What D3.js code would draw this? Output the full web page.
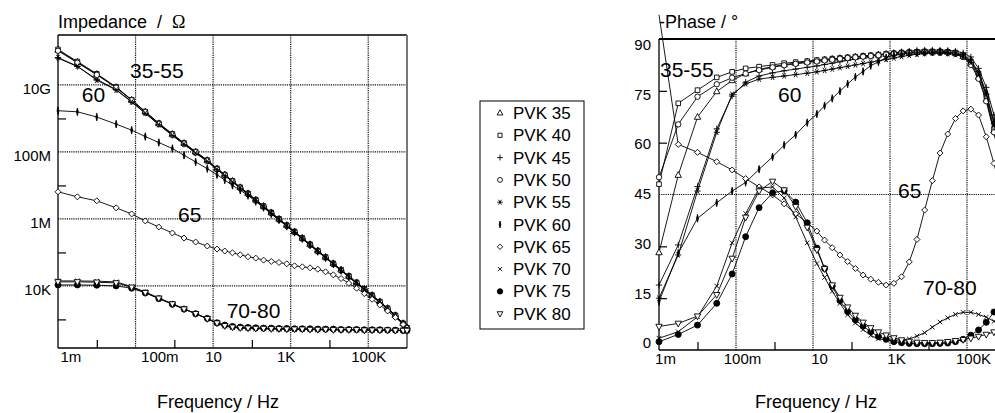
<!DOCTYPE html>
<html><head><meta charset="utf-8">
<script src="https://cdn.jsdelivr.net/npm/d3@7"></script>
<style>
body{margin:0;background:#fff;}
svg{display:block;}
</style></head><body>
<svg id="c" width="995" height="413"></svg>
<script>
// ---------- DATA ----------
const freq = [0.001,0.00316,0.01,0.0316,0.0794,0.178,0.398,0.891,1.78,3.55,7.08,12.6,20.0,31.6,50.1,79.4,126,200,316,501,794,1259,1995,3162,5012,7943,12589,19953,31623,50119,79433,125893,199526,316228,501187,794328,1000000];

const seriesNames = ["PVK 35","PVK 40","PVK 45","PVK 50","PVK 55","PVK 60","PVK 65","PVK 70","PVK 75","PVK 80"];
const seriesMarkers = ["tri","sq","plus","circ","star","tick","diam","cross","dot","itri"];

// |Z| / Ohm
const imp35 = [1.10e11,4.79e10,2.09e10,8.51e9,3.55e9,1.58e9,7.08e8,3.39e8,1.82e8,1.00e8,5.62e7,3.16e7,2.09e7,1.35e7,8.71e6,5.75e6,3.72e6,2.40e6,1.55e6,1.00e6,6.46e5,4.17e5,2.69e5,1.74e5,1.12e5,7.24e4,4.68e4,3.02e4,1.95e4,1.26e4,8.13e3,5.25e3,3.39e3,2.14e3,1.32e3,759,562];
const imp40 = [1.15e11,5.0e10,2.15e10,8.7e9,3.6e9,1.6e9,7.2e8,3.45e8,1.85e8,1.02e8,5.7e7,3.2e7,2.1e7,1.37e7,8.8e6,5.8e6,3.75e6,2.42e6,1.56e6,1.01e6,6.5e5,4.2e5,2.7e5,1.75e5,1.13e5,7.3e4,4.7e4,3.05e4,1.97e4,1.27e4,8.2e3,5.3e3,3.4e3,2.15e3,1.33e3,760,565];
const imp45 = [6.31e10,3.55e10,1.48e10,7.24e9,3.16e9,1.45e9,6.61e8,3.16e8,1.70e8,9.33e7,5.25e7,3.02e7,2.0e7,1.29e7,8.32e6,5.5e6,3.55e6,2.29e6,1.48e6,9.55e5,6.17e5,3.98e5,2.57e5,1.66e5,1.07e5,6.92e4,4.47e4,2.88e4,1.86e4,1.2e4,7.76e3,5.01e3,3.24e3,2.04e3,1.26e3,741,550];
const imp50 = [1.05e11,4.6e10,2.0e10,8.3e9,3.5e9,1.55e9,6.9e8,3.3e8,1.78e8,9.8e7,5.5e7,3.1e7,2.05e7,1.32e7,8.5e6,5.6e6,3.65e6,2.35e6,1.52e6,9.8e5,6.3e5,4.1e5,2.65e5,1.71e5,1.1e5,7.1e4,4.6e4,2.97e4,1.92e4,1.24e4,8.0e3,5.2e3,3.35e3,2.12e3,1.31e3,755,560];
const imp55 = [6.6e10,3.63e10,1.38e10,7.08e9,3.1e9,1.42e9,6.5e8,3.1e8,1.68e8,9.2e7,5.2e7,2.98e7,1.97e7,1.27e7,8.2e6,5.4e6,3.5e6,2.26e6,1.46e6,9.4e5,6.1e5,3.94e5,2.54e5,1.64e5,1.06e5,6.85e4,4.43e4,2.86e4,1.85e4,1.19e4,7.7e3,4.97e3,3.22e3,2.03e3,1.25e3,738,548];
const imp60 = [1.70e9,1.58e9,1.10e9,6.76e8,4.47e8,2.88e8,1.91e8,1.26e8,7.94e7,5.01e7,3.16e7,2.09e7,1.45e7,1.0e7,7.24e6,5.01e6,3.31e6,2.19e6,1.41e6,9.33e5,6.03e5,3.98e5,2.57e5,1.66e5,1.07e5,6.92e4,4.47e4,2.88e4,1.86e4,1.2e4,7.76e3,5.01e3,3.16e3,2.0e3,1.26e3,741,550];
const imp65 = [6.46e6,4.57e6,3.47e6,2.14e6,1.41e6,8.71e5,5.75e5,3.80e5,2.69e5,2.04e5,1.55e5,1.26e5,1.10e5,9.77e4,8.51e4,7.41e4,6.76e4,5.89e4,5.37e4,5.01e4,4.57e4,3.98e4,3.72e4,3.47e4,3.16e4,2.63e4,2.14e4,1.66e4,1.20e4,8.51e3,5.89e3,3.98e3,2.69e3,1.78e3,1.15e3,708,550];
const imp70 = [1.41e4,1.41e4,1.38e4,1.32e4,9.55e3,6.61e3,4.37e3,2.95e3,2.09e3,1.48e3,1.05e3,759,631,575,550,537,525,525,513,513,501,501,501,501,490,490,490,490,490,479,479,479,479,468,468,468,468];
const imp75 = [1.07e4,1.07e4,1.05e4,1.0e4,8.51e3,6.17e3,4.17e3,2.82e3,2.04e3,1.48e3,1.07e3,794,676,617,589,575,562,550,550,537,537,525,525,525,513,513,513,501,501,501,490,490,490,479,479,468,468];
const imp80 = [1.32e4,1.32e4,1.29e4,1.23e4,9.12e3,6.31e3,4.27e3,2.88e3,2.04e3,1.48e3,1.05e3,776,646,589,562,550,537,537,525,525,513,513,513,501,501,501,490,490,490,490,479,479,479,479,468,468,468];

// -Phase / degree
const ph35 = [28.2,50.6,67.4,74.8,78.0,80.0,81.2,82.0,82.6,83.0,83.4,83.7,84.0,84.2,84.4,84.6,84.8,85.0,85.2,85.4,85.6,85.8,86.0,86.1,86.2,86.3,86.3,86.3,86.2,85.9,85.0,83.0,79.0,72.5,63.5,52.0,45.0];
const ph40 = [48.0,71.4,75.2,78.9,80.5,81.5,82.0,82.5,83.0,83.3,83.6,83.9,84.1,84.3,84.5,84.7,84.9,85.1,85.3,85.5,85.7,85.9,86.1,86.2,86.3,86.4,86.4,86.4,86.3,86.1,85.3,83.5,80.0,73.5,64.0,51.0,43.0];
const ph45 = [18.8,30.4,47.3,64.0,73.5,77.5,79.3,80.2,80.8,81.3,81.8,82.2,82.6,83.0,83.4,83.8,84.2,84.6,85.0,85.4,85.7,86.0,86.3,86.5,86.7,86.8,86.8,86.8,86.7,86.5,86.0,84.8,81.5,76.0,68.0,57.0,50.0];
const ph50 = [50.0,65.3,73.3,76.9,78.8,80.0,81.0,81.8,82.4,82.8,83.2,83.5,83.8,84.0,84.3,84.5,84.7,84.9,85.1,85.3,85.5,85.7,85.9,86.0,86.1,86.2,86.2,86.2,86.1,85.8,84.8,82.5,78.5,72.0,63.0,52.0,45.0];
const ph55 = [15.0,27.5,46.0,63.0,74.0,77.0,78.4,78.9,79.3,79.7,80.1,80.5,80.9,81.3,81.7,82.1,82.5,82.9,83.3,83.7,84.1,84.5,84.9,85.3,85.6,85.8,85.9,85.9,85.8,85.5,84.8,83.2,79.8,74.0,65.5,54.0,47.0];
const ph60 = [14.0,28.0,38.1,42.6,46.0,48.5,52.3,55.9,59.3,62.3,65.8,68.3,70.7,72.8,74.9,77.0,79.0,80.6,82.3,83.4,84.6,85.3,85.7,85.9,86.0,86.1,86.2,86.2,86.1,85.9,85.3,83.8,80.5,74.5,66.0,55.0,48.0];
const ph65 = [97.0,59.5,57.2,54.5,52.1,49.6,47.2,44.9,42.3,39.4,36.8,34.4,31.8,29.6,27.5,25.6,23.6,21.7,20.5,19.6,18.8,19.3,21.2,25.5,32.0,40.5,49.0,57.0,62.5,67.0,69.2,69.7,68.0,61.7,54.0,45.0,40.0];
const ph70 = [3.4,5.3,9.6,18.5,31.0,39.5,46.8,47.2,44.0,38.5,31.0,25.0,21.0,17.0,13.5,10.2,7.8,5.9,4.2,3.2,2.9,2.8,2.9,3.2,4.0,5.0,6.6,8.1,9.3,10.3,10.9,10.9,10.3,9.5,8.3,7.2,6.7];
const ph75 = [2.4,4.5,7.2,13.5,22.0,32.8,41.2,45.5,46.1,42.8,36.8,29.5,23.6,18.5,14.3,11.1,8.7,6.9,5.3,3.9,3.1,2.4,2.1,1.9,1.8,1.8,1.8,1.9,2.0,2.4,3.1,4.3,5.8,8.0,11.0,14.5,16.0];
const ph80 = [6.8,7.7,9.8,16.0,26.5,38.4,46.0,48.8,46.3,41.5,35.5,29.0,23.5,18.8,15.2,12.4,10.0,8.0,6.4,5.2,4.3,3.5,2.9,2.5,2.2,2.1,2.1,2.2,2.4,2.7,3.0,3.4,3.9,4.5,5.2,6.0,6.5];

// ticks
const freqMajor = [1e-3,1e-1,1e1,1e3,1e5];
const freqLabels = ["1m","100m","10","1K","100K"];
const freqMinor = [1e-2,1,1e2,1e4];
const zMajor = [1e4,1e6,1e8,1e10];
const zLabels = ["10K","1M","100M","10G"];
const zMinor = [1e3,1e5,1e7,1e9];
const phTicks = [0,15,30,45,60,75,90];
const phMinor = [15,30,60,75];
const phGrid = [45];

// ---------- RENDER ----------
const FONT = '"Liberation Sans", Arial, Helvetica, sans-serif';
const svg = d3.select("#c").style("font-family", FONT);

const impSeries = [imp35,imp40,imp45,imp50,imp55,imp60,imp65,imp70,imp75,imp80];
const phSeries  = [ph35,ph40,ph45,ph50,ph55,ph60,ph65,ph70,ph75,ph80];

const xL = d3.scaleLog().domain([1e-3,1e6]).range([58,407]);
const yL = d3.scaleLog().domain([140,3.1e11]).range([348,35]);
const xR = d3.scaleLog().domain([1e-3,1e6]).range([659,1005.5]);
const yR = d3.scaleLinear().domain([0,90]).range([350,39]);

const markerDefs = {
  tri:  {d:"M0,-3.6L3.2,2.2L-3.2,2.2Z", fill:"#fff"},
  sq:   {d:"M-2.3,-2.3H2.3V2.3H-2.3Z", fill:"#fff"},
  plus: {d:"M-3.2,0H3.2M0,-3.2V3.2", fill:"none"},
  circ: {d:"M2.7,0A2.7,2.7 0 1,1 -2.7,0A2.7,2.7 0 1,1 2.7,0Z", fill:"#fff"},
  star: {d:"M-3.1,0H3.1M-1.6,-2.7L1.6,2.7M-1.6,2.7L1.6,-2.7", fill:"none"},
  tick: {d:"M0,-3.8L0.9,0L0,3.8L-0.9,0Z", fill:"#000"},
  diam: {d:"M0,-3L3,0L0,3L-3,0Z", fill:"#fff"},
  cross:{d:"M-2.3,-2.3L2.3,2.3M-2.3,2.3L2.3,-2.3", fill:"none"},
  dot:  {d:"M3,0A3,3 0 1,1 -3,0A3,3 0 1,1 3,0Z", fill:"#000"},
  itri: {d:"M0,3.6L3.2,-2.2L-3.2,-2.2Z", fill:"#fff"}
};
function drawMarkers(g, pts, type, s){
  const m = markerDefs[type];
  g.selectAll(null).data(pts).enter().append("path")
    .attr("d", m.d)
    .attr("transform", p => `translate(${p[0]},${p[1]}) scale(${s})`)
    .attr("fill", m.fill).attr("stroke","#000").attr("stroke-width", 0.9/s);
}

function gridDots(g){
  return g.attr("stroke","#111").attr("stroke-width",1.2).attr("stroke-dasharray","1.2,1");
}

function drawPanel(opt){
  const {x, y, yGridVals, yMinorVals, seriesVals, title, top, bottom, left, right, rightBorder} = opt;
  const g = svg.append("g");
  // gridlines
  g.append("g").selectAll("line").data(freqMajor.slice(1)).enter().append("line")
    .attr("x1", d=>x(d)).attr("x2", d=>x(d)).attr("y1", top).attr("y2", bottom)
    .call(gridDots);
  g.append("g").selectAll("line").data(yGridVals).enter().append("line")
    .attr("x1", left).attr("x2", right).attr("y1", d=>y(d)).attr("y2", d=>y(d))
    .call(gridDots);
  // frame
  g.append("line").attr("x1",left).attr("x2",right).attr("y1",top).attr("y2",top)
    .attr("stroke","#000").attr("stroke-width",opt.topWidth);
  if (rightBorder) g.append("line").attr("x1",right).attr("x2",right).attr("y1",top).attr("y2",bottom)
    .attr("stroke","#777").attr("stroke-width",2);
  g.append("line").attr("x1",left).attr("x2",left).attr("y1",top).attr("y2",bottom)
    .attr("stroke","#000").attr("stroke-width",1.3);
  g.append("line").attr("x1",left).attr("x2",right).attr("y1",bottom).attr("y2",bottom)
    .attr("stroke","#000").attr("stroke-width",1.5);

  // minor ticks
  const mb = g.append("g").attr("transform",`translate(0,${bottom})`)
    .call(d3.axisBottom(x).tickValues(freqMinor).tickSize(-8).tickFormat(""));
  mb.select(".domain").remove();
  mb.selectAll("line").attr("stroke","#000").attr("stroke-width",1.2);
  const ml = g.append("g").attr("transform",`translate(${left},0)`)
    .call(d3.axisLeft(y).tickValues(yMinorVals).tickSize(-8).tickFormat(""));
  ml.select(".domain").remove();
  ml.selectAll("line").attr("stroke","#000").attr("stroke-width",1.2);

  // x labels
  const ax = g.append("g").attr("transform",`translate(0,${bottom})`)
    .call(d3.axisBottom(x).tickValues(freqMajor).tickFormat((d,i)=>freqLabels[i]).tickSize(0).tickPadding(3));
  ax.select(".domain").remove();
  ax.selectAll("text").attr("font-size",15).attr("fill","#000").attr("font-family",FONT);
  opt.xLabelAdjust(ax.selectAll("text"));

  // y labels
  const ay = g.append("g").attr("transform",`translate(${left},0)`)
    .call(d3.axisLeft(y).tickValues(opt.yLabelVals).tickFormat(opt.yFmt).tickSize(0).tickPadding(opt.yPad));
  ay.select(".domain").remove();
  ay.selectAll("text").attr("font-size",15).attr("fill","#000").attr("font-family",FONT).attr("y", opt.yLabelDy);

  // series
  const line = d3.line().x(d=>d[0]).y(d=>d[1]);
  seriesVals.forEach((vals, si) => {
    const pts = vals.map((v,i)=>[x(freq[i]), y(v)]).filter(p => p[0] <= 1010);
    g.append("path").attr("d", line(pts)).attr("fill","none").attr("stroke","#000").attr("stroke-width",0.9);
    drawMarkers(g.append("g"), pts.filter(p => p[1] >= top - 1), seriesMarkers[si], 1);
  });

  // title
  g.append("text").attr("x", left).attr("y", 28).attr("font-size",18).attr("fill","#000")
    .attr("xml:space","preserve").style("white-space","pre").html(title);

  // axis title
  g.append("text").attr("x", opt.xTitleX).attr("y", 408).attr("text-anchor","middle")
    .attr("font-size",18).attr("fill","#000").text("Frequency / Hz");

  // annotations
  opt.annotations.forEach(a => {
    g.append("text").attr("x", x(a[1])).attr("y", y(a[2])).attr("font-size",21).attr("fill","#000").text(a[0]);
  });
  return g;
}

// left panel: impedance
drawPanel({
  x: xL, y: yL, seriesVals: impSeries,
  yGridVals: zMajor, yMinorVals: zMinor,
  yLabelVals: zMajor, yFmt: (d,i)=>zLabels[i], yPad: 7, yLabelDy: 4,
  top: 35, bottom: 348, left: 58, right: 407, rightBorder: true, topWidth: 1.5,
  title: 'Impedance  /  <tspan font-family="Liberation Serif, Times New Roman, serif">Ω</tspan>',
  xTitleX: 218,
  xLabelAdjust: sel => sel.each(function(d,i){
    if (i < 2) d3.select(this).attr("text-anchor","start").attr("x", i===0 ? 2 : 5);
    if (i === 3) d3.select(this).attr("x", -5);
  }),
  annotations: [["35-55",0.072,1.6e10],["60",0.0041,3.2e9],["65",1.25,8.3e5],["70-80",22.4,1.1e3]]
});

// right panel: phase
drawPanel({
  x: xR, y: yR, seriesVals: phSeries,
  yGridVals: phGrid, yMinorVals: phMinor,
  yLabelVals: phTicks, yFmt: d=>d, yPad: 8, yLabelDy: d => -7 + d*0.14,
  top: 39, bottom: 350, left: 659, right: 995, rightBorder: false, topWidth: 2.2,
  title: '-Phase / °',
  xTitleX: 816,
  xLabelAdjust: sel => sel.attr("x", 6),
  annotations: [["35-55",0.00106,79],["60",1.23,71.9],["65",1620,43.9],["70-80",7200,15.9]]
});

// legend
const lg = svg.append("g");
const lgX = 480, lgY = 101, lgW = 104, lgH = 228, lgStep = 22.3;
lg.append("rect").attr("x",lgX).attr("y",lgY).attr("width",lgW).attr("height",lgH)
  .attr("fill","#fff").attr("stroke","#000").attr("stroke-width",1);
seriesNames.forEach((name,i) => {
  const cy = lgY + 16 + i*lgStep;
  drawMarkers(lg, [[lgX+20, cy - 4]], seriesMarkers[i], 0.9);
  lg.append("text").attr("x", lgX+33).attr("y", cy + 2).attr("font-size",17).attr("fill","#000").text(name);
});
</script>
</body></html>
